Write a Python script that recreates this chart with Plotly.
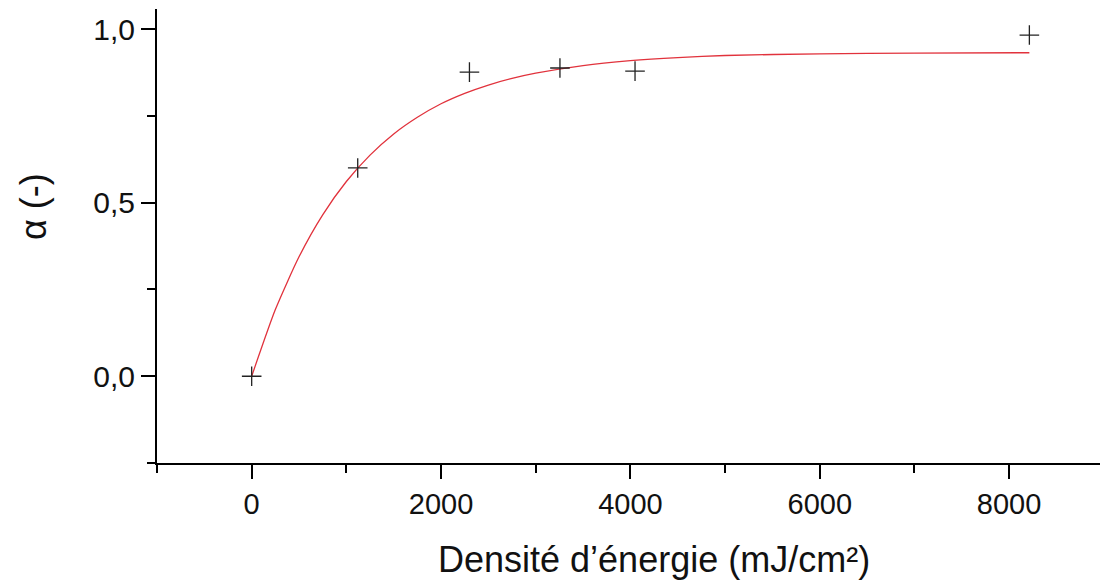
import plotly.graph_objects as go

# Measured points
x_pts = [0, 1120, 2300, 3256, 4049, 8214]
y_pts = [0.0, 0.60, 0.876, 0.888, 0.879, 0.983]

# Fitted curve
x_fit = [0, 250, 500, 750, 1000, 1250, 1500, 1750, 2000, 2250, 2500, 2750, 3000, 3500, 4000, 4500, 5000, 6000, 7000, 8214]
y_fit = [0.0, 0.192, 0.344, 0.465, 0.561, 0.637, 0.698, 0.746, 0.785, 0.815, 0.839, 0.858, 0.873, 0.895, 0.909, 0.918, 0.924, 0.929, 0.931, 0.932]

x_tickvals = [0, 2000, 4000, 6000, 8000]
x_ticktext = ["0", "2000", "4000", "6000", "8000"]
x_minor = [-1000, 1000, 3000, 5000, 7000]
y_tickvals = [0.0, 0.5, 1.0]
y_ticktext = ["0,0", "0,5", "1,0"]
y_minor = [-0.25, 0.25, 0.75]

FONT = "Liberation Sans, Arial, sans-serif"

fig = go.Figure()
fig.add_trace(go.Scatter(x=x_fit, y=y_fit, mode="lines",
                         line=dict(color="rgb(225,50,60)", width=1.3, shape="spline", smoothing=0.6),
                         showlegend=False, hoverinfo="skip"))
fig.add_trace(go.Scatter(x=x_pts, y=y_pts, mode="markers",
                         marker=dict(symbol="cross-thin", size=14, line=dict(color="#222", width=1.3)),
                         showlegend=False))

fig.update_layout(
    width=1100, height=586,
    margin=dict(l=157, r=0, t=9, b=123),
    paper_bgcolor="white", plot_bgcolor="white",
    font=dict(family=FONT, color="#111"),
    xaxis=dict(range=[-1000, 8960], showgrid=False, zeroline=False,
               showline=True, linecolor="black", linewidth=2,
               ticks="outside", ticklen=14, tickwidth=2, tickcolor="black",
               tickvals=x_tickvals, ticktext=x_ticktext, tickfont=dict(size=29, family=FONT, color="#111"),
               minor=dict(tickvals=x_minor, ticks="outside", ticklen=8, tickwidth=2, tickcolor="black")),
    yaxis=dict(range=[-0.25, 1.058], showgrid=False, zeroline=False,
               showline=True, linecolor="black", linewidth=2,
               ticks="outside", ticklen=14, tickwidth=2, tickcolor="black",
               tickvals=y_tickvals, ticktext=y_ticktext, tickfont=dict(size=30, family=FONT, color="#111"),
               minor=dict(tickvals=y_minor, ticks="outside", ticklen=8, tickwidth=2, tickcolor="black")),
    annotations=[
        dict(text="Densité d’énergie (mJ/cm²)", xref="paper", yref="paper",
             x=0.527, y=-0.212, xanchor="center", yanchor="middle", showarrow=False,
             font=dict(size=36, family=FONT, color="#111")),
        dict(text="α (-)", xref="paper", yref="paper", textangle=-90,
             x=-0.131, y=0.565, xanchor="center", yanchor="middle", showarrow=False,
             font=dict(size=36, family=FONT, color="#111")),
    ],
)

fig.write_html("out.html")
